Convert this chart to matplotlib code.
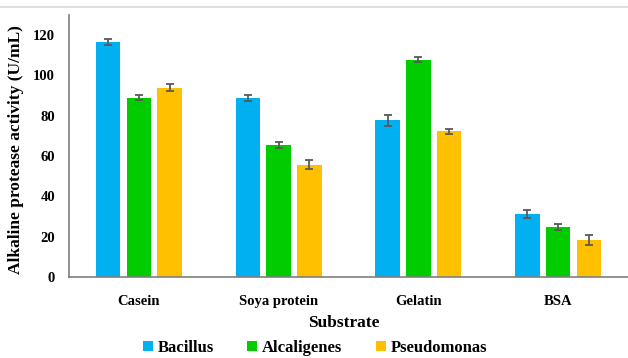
import matplotlib
matplotlib.use("Agg")
import matplotlib.pyplot as plt
import numpy as np
from matplotlib.lines import Line2D
from matplotlib.patches import Patch

substrates = ["Casein", "Soya protein", "Gelatin", "BSA"]
series_names = ["Bacillus", "Alcaligenes", "Pseudomonas"]
bacillus = [116.4, 88.8, 77.7, 31.2]
alcaligenes = [89.0, 65.4, 107.9, 24.9]
pseudomonas = [94.0, 55.8, 72.2, 18.3]
bacillus_err = [1.5, 1.5, 2.7, 1.9]
alcaligenes_err = [1.2, 1.4, 1.2, 1.5]
pseudomonas_err = [1.8, 2.4, 1.2, 2.5]
y_ticks = [0, 20, 40, 60, 80, 100, 120]

colors = ["#00B0F0", "#00CC00", "#FFC000"]
values = [bacillus, alcaligenes, pseudomonas]
errors = [bacillus_err, alcaligenes_err, pseudomonas_err]

plt.rcParams["font.family"] = ["Liberation Serif", "DejaVu Serif"]
plt.rcParams["font.weight"] = "bold"

fig = plt.figure(figsize=(6.28, 3.58), dpi=100)
ax = fig.add_axes([69 / 628, 1 - 277 / 358, (628 - 69) / 628, (277 - 15) / 358])

x = np.arange(len(substrates))
width = 0.175
step = 0.22
for i, (vals, errs, c) in enumerate(zip(values, errors, colors)):
    ax.bar(x + (i - 1) * step, vals, width, color=c, zorder=2,
           yerr=errs, error_kw=dict(ecolor="#595959", elinewidth=1.3,
                                    capsize=3, capthick=1.3))

ax.set_xlim(-0.5, 3.5)
ax.set_ylim(0, 130)
ax.set_yticks(y_ticks)
ax.set_yticklabels([str(t) for t in y_ticks], fontsize=10.5, fontweight="bold")
ax.set_xticks(x)
ax.set_xticklabels(substrates, fontsize=10.5, fontweight="bold")
ax.tick_params(axis="both", length=0, pad=10)
ax.tick_params(axis="x", pad=13)
for s in ["top", "right"]:
    ax.spines[s].set_visible(False)
for s in ["left", "bottom"]:
    ax.spines[s].set_color("#7f7f7f")
    ax.spines[s].set_linewidth(1.2)

ax.set_ylabel("Alkaline protease activity (U/mL)", fontsize=12.5,
              fontweight="bold")
ax.yaxis.set_label_coords(-45 / 559, (277 - 150) / 262)
fig.text(344 / 628, 1 - 323 / 358, "Substrate", fontsize=12.5,
         fontweight="bold", ha="center", va="center")

handles = [Patch(facecolor=c, edgecolor="none") for c in colors]
fig.legend(handles, series_names, loc="center", ncol=3,
           bbox_to_anchor=(315 / 628, 1 - 348 / 358), frameon=False,
           prop=dict(size=12, weight="bold"), handlelength=0.6,
           handleheight=0.6, handletextpad=0.3, columnspacing=2.0)

fig.add_artist(Line2D([0, 1], [1 - 7 / 358, 1 - 7 / 358], color="#d9d9d9",
                      linewidth=1.2, transform=fig.transFigure))

fig.savefig("out.png", dpi=100)
